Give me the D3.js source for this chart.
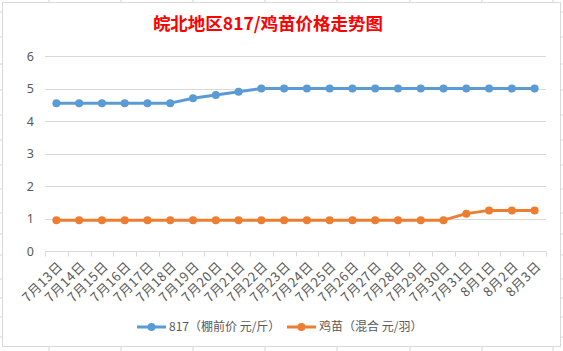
<!DOCTYPE html>
<html>
<head>
<meta charset="utf-8">
<script src="https://cdn.jsdelivr.net/npm/d3@7"></script>
<style>
  body { margin: 0; background: #fff; }
  text { font-family: "Noto Sans CJK SC", "Noto Sans", sans-serif; }
</style>
</head>
<body>
<div id="chart"></div>
<script>
// price data
const dates = ['7月13日', '7月14日', '7月15日', '7月16日', '7月17日', '7月18日', '7月19日', '7月20日',
  '7月21日', '7月22日', '7月23日', '7月24日', '7月25日', '7月26日', '7月27日', '7月28日',
  '7月29日', '7月30日', '7月31日', '8月1日', '8月2日', '8月3日'];
const price817 = [4.55, 4.55, 4.55, 4.55, 4.55, 4.55, 4.7, 4.8, 4.9, 5, 5, 5, 5, 5, 5, 5, 5, 5, 5, 5, 5, 5];
const priceChick = [0.95, 0.95, 0.95, 0.95, 0.95, 0.95, 0.95, 0.95, 0.95, 0.95, 0.95, 0.95, 0.95, 0.95, 0.95, 0.95, 0.95, 0.95, 1.15, 1.25, 1.25, 1.25];
const yTicks = [0, 1, 2, 3, 4, 5, 6];
const seriesNames = ['817（棚前价 元/斤）', '鸡苗（混合 元/羽）'];
const colors = ['#5B9BD5', '#ED7D31'];

const width = 563, height = 351;
const svg = d3.select('#chart').append('svg').attr('width', width).attr('height', height);

// spreadsheet cell lines peeking around the chart box
const sheetCols = [49, 121, 193, 265, 337, 410, 482, 553];
const sheetRows = [12, 37, 64, 90, 115, 140, 165, 189, 213, 234, 255, 279, 298, 317, 337];
sheetCols.forEach(x => {
  svg.append('line').attr('x1', x).attr('x2', x).attr('y1', 0).attr('y2', 2).attr('stroke', '#d4d4d4');
  svg.append('line').attr('x1', x).attr('x2', x).attr('y1', 347).attr('y2', 351).attr('stroke', '#d4d4d4');
});
sheetRows.forEach(y => {
  svg.append('line').attr('x1', 0).attr('x2', 2).attr('y1', y).attr('y2', y).attr('stroke', '#d4d4d4');
  svg.append('line').attr('x1', 561).attr('x2', 563).attr('y1', y).attr('y2', y).attr('stroke', '#d4d4d4');
});

// chart box
svg.append('rect')
  .attr('x', 2.5).attr('y', 2.5).attr('width', 558).attr('height', 344)
  .attr('fill', '#fff').attr('stroke', '#d9d9d9');

// title
svg.append('text')
  .attr('x', 268).attr('y', 30)
  .attr('text-anchor', 'middle')
  .attr('font-size', '17.5px').attr('font-weight', 'bold')
  .attr('fill', '#ff0000')
  .text('皖北地区817/鸡苗价格走势图');

// scales
const x = d3.scaleBand().domain(dates).range([45, 546]);
const y = d3.scaleLinear().domain([0, 6]).range([251, 56]);

// gridlines
svg.append('g')
  .selectAll('line')
  .data(yTicks.filter(d => d > 0))
  .enter()
  .append('line')
  .attr('x1', 45).attr('x2', 546)
  .attr('y1', d => Math.round(y(d)) + 0.5).attr('y2', d => Math.round(y(d)) + 0.5)
  .attr('stroke', '#d9d9d9');

// y axis labels
const yAxis = svg.append('g')
  .attr('transform', 'translate(45,0)')
  .call(d3.axisLeft(y).tickValues(yTicks).tickFormat(d3.format('d')).tickSize(0).tickPadding(11));
yAxis.select('.domain').remove();
yAxis.selectAll('text').attr('font-size', '12.5px').attr('fill', '#595959')
  .style('font-family', '"Noto Sans", sans-serif');

// x axis with ticks at band edges
const xAxis = svg.append('g')
  .attr('transform', 'translate(0,' + (Math.round(y(0)) + 0.5) + ')')
  .call(d3.axisBottom(x).tickSize(0).tickFormat(''));
xAxis.select('.domain').attr('stroke', '#d9d9d9').attr('d', 'M45,0H546');
const edges = dates.map(d => x(d)).concat([546]);
xAxis.selectAll('.edge')
  .data(edges)
  .enter()
  .append('line')
  .attr('x1', d => Math.round(d) + 0.5).attr('x2', d => Math.round(d) + 0.5)
  .attr('y1', 0).attr('y2', 5)
  .attr('stroke', '#d9d9d9');

// rotated date labels
svg.append('g')
  .selectAll('text')
  .data(dates)
  .enter()
  .append('text')
  .attr('transform', d => 'translate(' + (x(d) + x.bandwidth() / 2 + 4) + ',264) rotate(-45)')
  .attr('text-anchor', 'end')
  .attr('dy', '0.35em')
  .attr('font-size', '13px')
  .attr('letter-spacing', '0.6px')
  .attr('fill', '#595959')
  .text(d => d);

// lines and markers
const cx = d => x(d) + x.bandwidth() / 2;
[price817, priceChick].forEach((vals, i) => {
  const line = d3.line().x((v, j) => cx(dates[j])).y(v => y(v));
  svg.append('path')
    .datum(vals)
    .attr('d', line)
    .attr('fill', 'none')
    .attr('stroke', colors[i])
    .attr('stroke-width', 3)
    .attr('stroke-linejoin', 'round');
  svg.append('g')
    .selectAll('circle')
    .data(vals)
    .enter()
    .append('circle')
    .attr('cx', (v, j) => cx(dates[j]))
    .attr('cy', v => y(v))
    .attr('r', 4)
    .attr('fill', colors[i]);
});

// legend
const legendX = [137, 287];
seriesNames.forEach((name, i) => {
  const g = svg.append('g').attr('transform', 'translate(' + legendX[i] + ',327)');
  g.append('line').attr('x1', 0).attr('x2', 29).attr('y1', 0).attr('y2', 0)
    .attr('stroke', colors[i]).attr('stroke-width', 3);
  g.append('circle').attr('cx', 14.5).attr('cy', 0).attr('r', 4).attr('fill', colors[i]);
  g.append('text').attr('x', 32).attr('y', 0).attr('dy', '0.35em')
    .attr('font-size', '12px').attr('fill', '#595959')
    .text(name);
});
</script>
</body>
</html>
